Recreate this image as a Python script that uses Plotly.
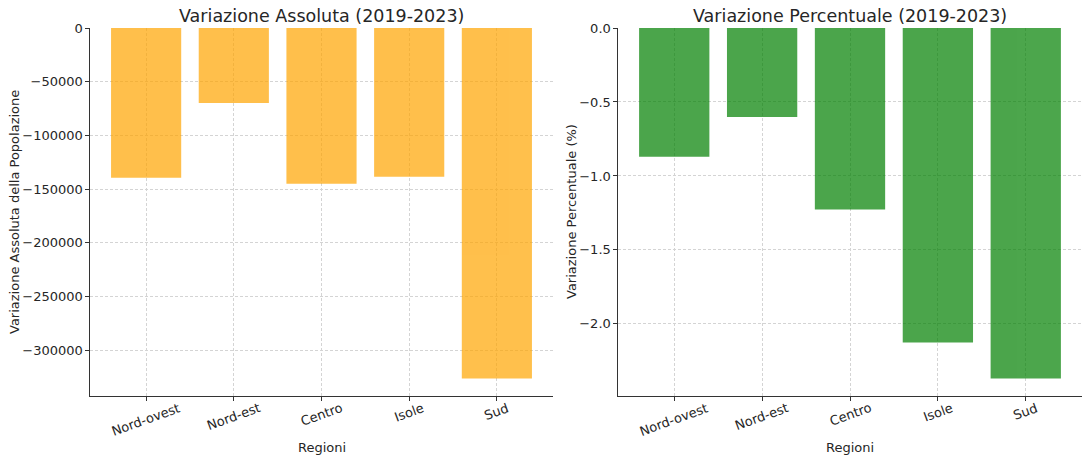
import plotly.graph_objects as go
from plotly.subplots import make_subplots

regioni = ["Nord-ovest", "Nord-est", "Centro", "Isole", "Sud"]
var_assoluta = [-139500, -69800, -145100, -138600, -326400]
var_percentuale = [-0.871, -0.601, -1.226, -2.126, -2.369]

W, H = 1089, 462
L1, R1 = 90, 553
L2, R2 = 618, 1082
TOP, BOT = 28, 396

FONT = "DejaVu Sans"
TXT = "#262626"
FS = 13

fig = make_subplots(rows=1, cols=2)
fig.add_trace(go.Bar(x=regioni, y=var_assoluta, marker_color="orange", opacity=0.7,
                     marker_line_width=0, width=0.8, showlegend=False), row=1, col=1)
fig.add_trace(go.Bar(x=regioni, y=var_percentuale, marker_color="green", opacity=0.7,
                     marker_line_width=0, width=0.8, showlegend=False), row=1, col=2)

axis_common = dict(
    showgrid=True, gridcolor="#d4d4d4", griddash="3px,2px", gridwidth=0.8,
    showline=True, linecolor="#333333", linewidth=1.2, zeroline=False,
    ticks="outside", ticklen=3.5, tickcolor="#333333", tickwidth=1,
    tickfont=dict(family=FONT, size=FS, color=TXT), automargin=False,
)

fig.update_xaxes(axis_common)
fig.update_yaxes(axis_common)

fig.update_layout(
    xaxis=dict(domain=[L1 / W, R1 / W], range=[-0.64, 4.64], showticklabels=False),
    xaxis2=dict(domain=[L2 / W, R2 / W], range=[-0.64, 4.64], showticklabels=False),
    yaxis=dict(range=[min(var_assoluta) * 1.05, 0], dtick=50000, tickformat="d"),
    yaxis2=dict(range=[min(var_percentuale) * 1.05, 0], dtick=0.5, tickformat=".1f"),
    width=W, height=H,
    margin=dict(l=0, r=0, t=TOP, b=H - BOT, pad=0, autoexpand=False),
    plot_bgcolor="white", paper_bgcolor="white",
    font=dict(family=FONT, color=TXT),
    bargap=0.2,
)

ph = BOT - TOP
def ypix(py):
    return (BOT - py) / ph

# rotated category labels, centred under each tick (matplotlib-style)
for xref in ("x", "x2"):
    for r in regioni:
        fig.add_annotation(text=r, x=r, xref=xref, y=ypix(399), yref="paper",
                           xanchor="center", yanchor="top", textangle=-20,
                           showarrow=False, borderpad=0,
                           font=dict(family=FONT, size=FS, color=TXT))

annots = [
    dict(text="Variazione Assoluta (2019-2023)", x=(L1 + R1) / 2 / W, y=ypix(16), size=17.5),
    dict(text="Variazione Percentuale (2019-2023)", x=(L2 + R2) / 2 / W, y=ypix(16), size=17.5),
    dict(text="Regioni", x=(L1 + R1) / 2 / W, y=ypix(447), size=FS),
    dict(text="Regioni", x=(L2 + R2) / 2 / W, y=ypix(447), size=FS),
]
for a in annots:
    fig.add_annotation(text=a["text"], x=a["x"], y=a["y"], xref="paper", yref="paper",
                       xanchor="center", yanchor="middle", showarrow=False,
                       font=dict(family=FONT, size=a["size"], color=TXT))

fig.add_annotation(text="Variazione Assoluta della Popolazione", x=14 / W, y=ypix(212),
                   xref="paper", yref="paper", xanchor="center", yanchor="middle",
                   textangle=-90, showarrow=False, font=dict(family=FONT, size=FS, color=TXT))
fig.add_annotation(text="Variazione Percentuale (%)", x=571 / W, y=ypix(212),
                   xref="paper", yref="paper", xanchor="center", yanchor="middle",
                   textangle=-90, showarrow=False, font=dict(family=FONT, size=FS, color=TXT))

fig.write_html("out.html", config={"displayModeBar": False},
               post_script="document.body.style.margin='0';")
